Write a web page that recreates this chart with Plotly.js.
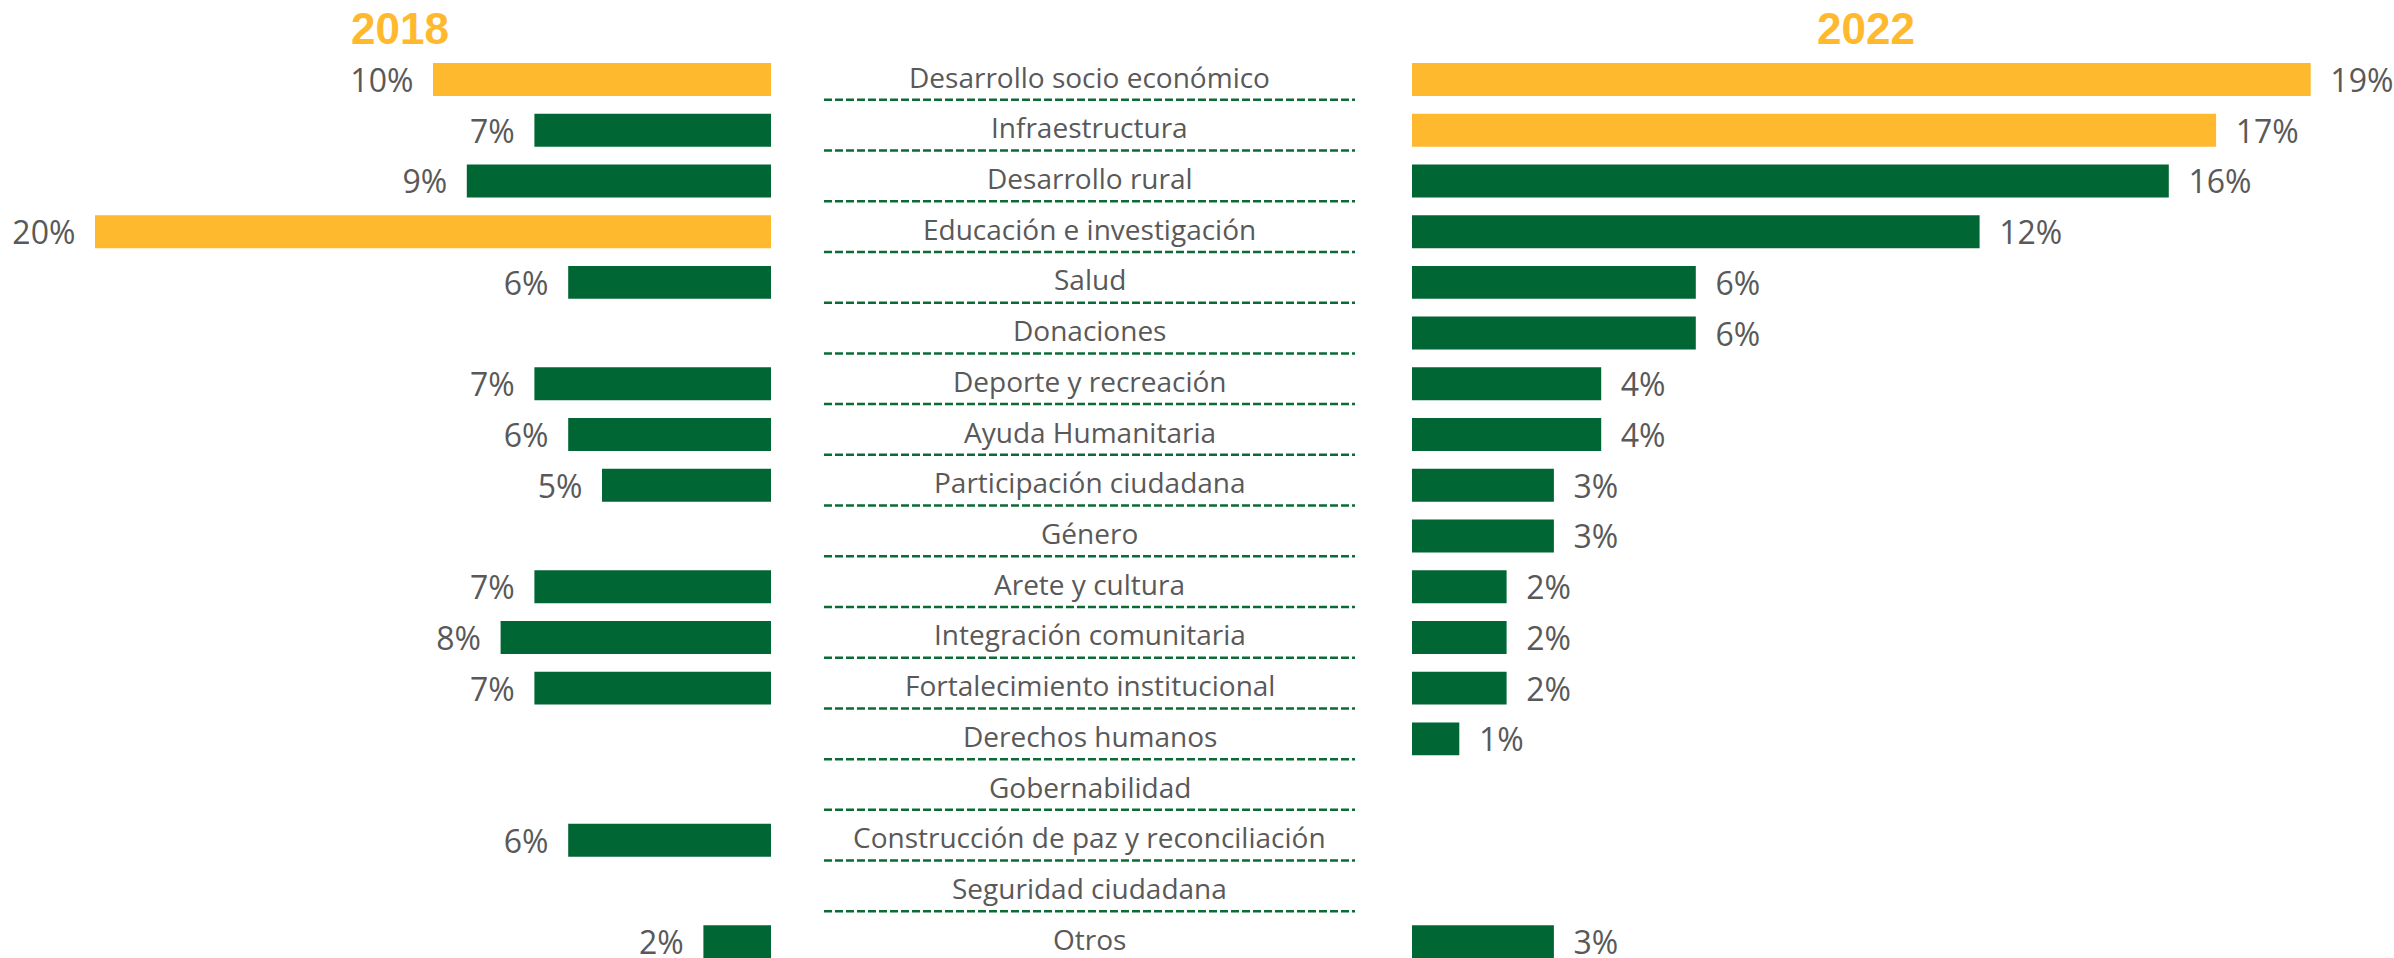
<!DOCTYPE html>
<html>
<head>
<meta charset="utf-8">
<script src="https://cdn.plot.ly/plotly-3.0.1.min.js"></script>
<style>
  html, body { margin: 0; padding: 0; background: #ffffff; }
  #chart { width: 2394px; height: 958px; }
</style>
</head>
<body>
<div id="chart"></div>
<script>
// ---- Data ----
const categories = [
  'Desarrollo socio económico',
  'Infraestructura',
  'Desarrollo rural',
  'Educación e investigación',
  'Salud',
  'Donaciones',
  'Deporte y recreación',
  'Ayuda Humanitaria',
  'Participación ciudadana',
  'Género',
  'Arete y cultura',
  'Integración comunitaria',
  'Fortalecimiento institucional',
  'Derechos humanos',
  'Gobernabilidad',
  'Construcción de paz y reconciliación',
  'Seguridad ciudadana',
  'Otros'
];
const values2018 = [10, 7, 9, 20, 6, null, 7, 6, 5, null, 7, 8, 7, null, null, 6, null, 2];
const values2022 = [19, 17, 16, 12, 6, 6, 4, 4, 3, 3, 2, 2, 2, 1, null, null, null, 3];
const yearLabels = ['2018', '2022'];

// ---- Styles ----
const YELLOW = '#FFB92E';
const GREEN = '#006633';
const GRAY = '#595959';
const W = 2394, H = 958;
const NB = '\u00A0\u00A0';

function highlightColors(vals) {
  const sorted = vals.filter(v => v != null).sort((a, b) => b - a);
  const thr = sorted[1];
  return vals.map(v => (v != null && v >= thr) ? YELLOW : GREEN);
}

const labelFont = { family: 'Open Sans, sans-serif', size: 32, color: GRAY };

const trace2018 = {
  type: 'bar', orientation: 'h',
  y: categories, x: values2018,
  xaxis: 'x', yaxis: 'y',
  width: 0.65,
  marker: { color: highlightColors(values2018), line: { width: 0 } },
  text: values2018.map(v => v == null ? '' : v + '%' + NB),
  textposition: 'outside',
  textfont: labelFont,
  constraintext: 'none',
  cliponaxis: false,
  hoverinfo: 'skip'
};
const trace2022 = {
  type: 'bar', orientation: 'h',
  y: categories, x: values2022,
  xaxis: 'x2', yaxis: 'y',
  width: 0.65,
  marker: { color: highlightColors(values2022), line: { width: 0 } },
  text: values2022.map(v => v == null ? '' : NB + v + '%'),
  textposition: 'outside',
  textfont: labelFont,
  constraintext: 'none',
  cliponaxis: false,
  hoverinfo: 'skip'
};

const leftZeroPx = 771, leftPxPerUnit = 33.8;
const rightZeroPx = 1412, rightPxPerUnit = 47.3;
const rowTopPx = 79.5, rowPitch = 50.72;

const annotations = [];
categories.forEach((c, i) => {
  annotations.push({
    xref: 'paper', yref: 'y', x: 1089.5 / W, y: i,
    text: c, showarrow: false, xanchor: 'center', yanchor: 'middle',
    yshift: 3,
    font: { family: 'Open Sans, sans-serif', size: 28, color: GRAY }
  });
});
annotations.push({
  xref: 'paper', yref: 'paper', x: 400 / W, y: 1 - 28.5 / H,
  text: '<b>' + yearLabels[0] + '</b>', showarrow: false, xanchor: 'center', yanchor: 'middle',
  font: { family: 'Liberation Sans, Arial, sans-serif', size: 44, color: YELLOW }
});
annotations.push({
  xref: 'paper', yref: 'paper', x: 1866 / W, y: 1 - 28.5 / H,
  text: '<b>' + yearLabels[1] + '</b>', showarrow: false, xanchor: 'center', yanchor: 'middle',
  font: { family: 'Liberation Sans, Arial, sans-serif', size: 44, color: YELLOW }
});

const shapes = [];
for (let i = 0; i < categories.length - 1; i++) {
  shapes.push({
    type: 'line', xref: 'paper', yref: 'y',
    x0: 824 / W, x1: 1355 / W, y0: i + 0.4, y1: i + 0.4,
    line: { color: '#0B6B35', width: 2.5, dash: '8px,3px' }
  });
}

const hiddenAxis = {
  showgrid: false, zeroline: false, showline: false, showticklabels: false, ticks: '', fixedrange: true
};

const layout = {
  width: W, height: H,
  margin: { l: 0, r: 0, t: 0, b: 0, pad: 0 },
  paper_bgcolor: '#ffffff', plot_bgcolor: 'rgba(0,0,0,0)',
  showlegend: false,
  barmode: 'overlay',
  xaxis: Object.assign({}, hiddenAxis, {
    domain: [0, leftZeroPx / W],
    range: [leftZeroPx / leftPxPerUnit, 0]
  }),
  xaxis2: Object.assign({}, hiddenAxis, {
    domain: [rightZeroPx / W, 1],
    range: [0, (W - rightZeroPx) / rightPxPerUnit],
    anchor: 'y'
  }),
  yaxis: Object.assign({}, hiddenAxis, {
    type: 'category',
    domain: [0, 1],
    range: [(H - rowTopPx) / rowPitch, -rowTopPx / rowPitch]
  }),
  annotations: annotations,
  shapes: shapes
};

Plotly.newPlot('chart', [trace2018, trace2022], layout, { staticPlot: true, displayModeBar: false });
</script>
</body>
</html>
